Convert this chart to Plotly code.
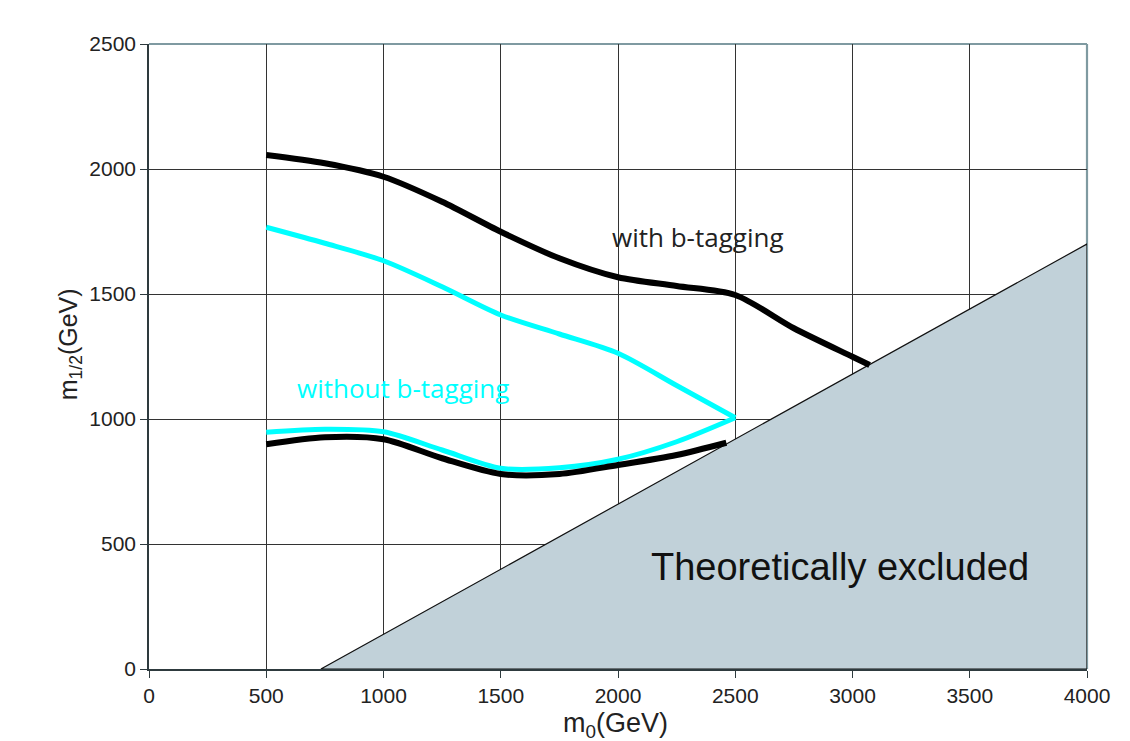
import plotly.graph_objects as go

# Reach curves in the (m0, m1/2) plane, GeV
M0_WITH_UPPER = [500, 750, 1000, 1250, 1500, 1750, 2000, 2250, 2500, 2750, 3000, 3073]
M12_WITH_UPPER = [2056, 2023, 1969, 1869, 1749, 1643, 1567, 1532, 1496, 1363, 1249, 1216]
M0_WITH_LOWER = [500, 750, 1000, 1250, 1500, 1750, 2000, 2250, 2462]
M12_WITH_LOWER = [899, 927, 919, 843, 780, 780, 816, 856, 905]

M0_WITHOUT_LOWER = [500, 750, 1000, 1250, 1500, 1750, 2000, 2250, 2500]
M12_WITHOUT_LOWER = [947, 959, 949, 876, 803, 805, 839, 909, 1005]
M0_WITHOUT_UPPER = [500, 750, 1000, 1250, 1500, 1750, 2000, 2250, 2500]
M12_WITHOUT_UPPER = [1767, 1703, 1633, 1529, 1416, 1340, 1263, 1134, 1005]

# Theoretically excluded region
EXCL_M0 = [733, 4000, 4000, 733]
EXCL_M12 = [0, 1700, 0, 0]

X_TICKS = [0, 500, 1000, 1500, 2000, 2500, 3000, 3500, 4000]
Y_TICKS = [0, 500, 1000, 1500, 2000, 2500]

fig = go.Figure()

fig.add_trace(go.Scatter(
    x=EXCL_M0, y=EXCL_M12, mode="lines", fill="toself",
    fillcolor="#c1d1d9", line=dict(color="#111111", width=1.2),
    hoverinfo="skip", showlegend=False,
))
for xs, ys in [(M0_WITHOUT_LOWER, M12_WITHOUT_LOWER), (M0_WITHOUT_UPPER, M12_WITHOUT_UPPER)]:
    fig.add_trace(go.Scatter(
        x=xs, y=ys, mode="lines",
        line=dict(color="#00ffff", width=5, shape="spline", smoothing=0.8),
        showlegend=False,
    ))
for xs, ys in [(M0_WITH_UPPER, M12_WITH_UPPER), (M0_WITH_LOWER, M12_WITH_LOWER)]:
    fig.add_trace(go.Scatter(
        x=xs, y=ys, mode="lines",
        line=dict(color="#000000", width=6, shape="spline", smoothing=0.8),
        showlegend=False,
    ))

tick_font = dict(family="Liberation Sans, Arial, sans-serif", size=21, color="#222222")
axis_style = dict(
    showgrid=True, gridcolor="#333333", gridwidth=1.4,
    showline=True, linecolor="#2e3a3e", linewidth=1.6,
    ticks="outside", ticklen=7, tickcolor="#2e3a3e", tickwidth=1.3,
    tickfont=tick_font, zeroline=False, fixedrange=True,
)
fig.update_xaxes(range=[0, 4000], tickvals=X_TICKS,
                 ticktext=[str(v) for v in X_TICKS], **axis_style)
fig.update_yaxes(range=[0, 2500], tickvals=Y_TICKS,
                 ticktext=[str(v) for v in Y_TICKS], **axis_style)

shapes = [
    # top and right frame
    dict(type="line", xref="paper", yref="paper", x0=0, x1=1, y0=1, y1=1,
         line=dict(color="#7f9aa1", width=2.2), layer="between"),
    dict(type="line", xref="paper", yref="paper", x0=1, x1=1, y0=0, y1=1,
         line=dict(color="#7f9aa1", width=2.2), layer="between"),
]

annotations = [
    dict(x=2340, y=1728, xref="x", yref="y", text="with b-tagging", showarrow=False,
         font=dict(family="Open Sans, Noto Sans, sans-serif", size=26, color="#222222")),
    dict(x=1083, y=1124, xref="x", yref="y", text="without b-tagging", showarrow=False,
         font=dict(family="Open Sans, Noto Sans, sans-serif", size=26, color="#00ffff")),
    dict(x=2945, y=408, xref="x", yref="y", text="Theoretically excluded", showarrow=False,
         font=dict(family="Liberation Sans, Arial, sans-serif", size=38, color="#111111")),
    dict(x=0.497, y=-0.09, xref="paper", yref="paper", text="m<sub>0</sub>(GeV)",
         showarrow=False, xanchor="center", yanchor="middle",
         font=dict(family="Liberation Sans, Arial, sans-serif", size=27, color="#222222")),
    dict(x=-0.084, y=0.52, xref="paper", yref="paper", text="m<sub>1/2</sub>(GeV)",
         showarrow=False, textangle=-90, xanchor="center", yanchor="middle",
         font=dict(family="Liberation Sans, Arial, sans-serif", size=25, color="#222222")),
]

fig.update_layout(
    width=1130, height=741,
    margin=dict(l=149, r=42.5, t=44, b=72),
    paper_bgcolor="white", plot_bgcolor="white",
    shapes=shapes, annotations=annotations,
    showlegend=False,
)

fig.write_html("out.html")
